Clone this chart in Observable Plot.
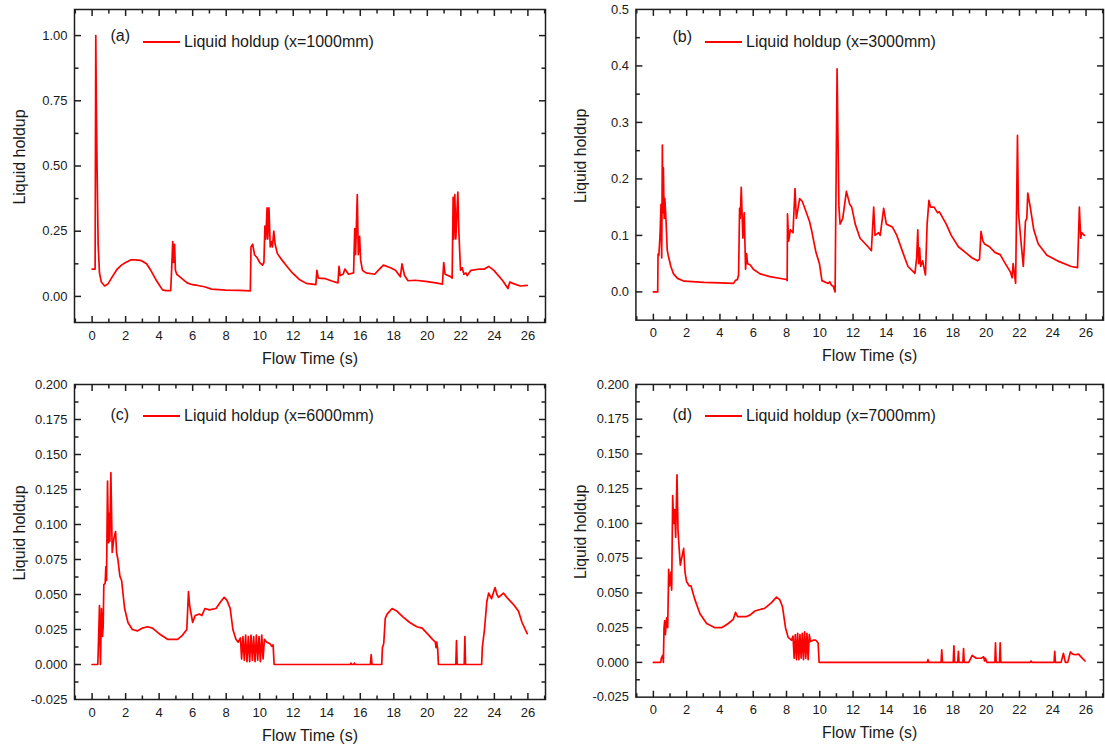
<!DOCTYPE html>
<html><head><meta charset="utf-8">
<script src="https://cdn.jsdelivr.net/npm/d3@7"></script>
<script src="https://cdn.jsdelivr.net/npm/@observablehq/plot@0.6"></script>
<style>
html,body{margin:0;padding:0;background:#fff;overflow:hidden;}
#fig{position:relative;width:1105px;height:749px;overflow:hidden;font-family:"Liberation Sans",Arial,sans-serif;color:#1a1a1a;background:#fff;}
.panel{position:absolute;}
.lg{position:absolute;font-size:16px;white-space:nowrap;line-height:16px;transform:translateY(-50%);}
.sw{position:absolute;height:0;border-top:2px solid #ff0000;transform:translateY(-1px);}
</style></head><body><div id="fig"></div>
<script>
// ---------- data ----------
const tags = ["(a)", "(b)", "(c)", "(d)"];
const captions = ["Liquid holdup (x=1000mm)", "Liquid holdup (x=3000mm)", "Liquid holdup (x=6000mm)", "Liquid holdup (x=7000mm)"];
const xTitle = "Flow Time (s)";
const yTitle = "Liquid holdup";

const xMajor = [0,2,4,6,8,10,12,14,16,18,20,22,24,26];
const xMinor = [-1,1,3,5,7,9,11,13,15,17,19,21,23,25,27];

const yMajorA = [0, 0.25, 0.5, 0.75, 1.0];
const yMinorA = [-0.125, 0.125, 0.375, 0.625, 0.875, 1.125];
const yMajorB = [0, 0.1, 0.2, 0.3, 0.4, 0.5];
const yMinorB = [-0.05, 0.05, 0.15, 0.25, 0.35, 0.45];
const yMajorC = [-0.025, 0, 0.025, 0.05, 0.075, 0.1, 0.125, 0.15, 0.175, 0.2];
const yMinorC = [-0.0125, 0.0125, 0.0375, 0.0625, 0.0875, 0.1125, 0.1375, 0.1625, 0.1875];

const timeA = [0,0.18,0.22,0.25,0.3,0.36,0.44,0.55,0.75,0.95,1.2,1.5,1.75,2.0,2.3,2.6,2.95,3.25,3.5,3.8,4.0,4.2,4.4,4.69,4.75,4.81,4.86,4.92,4.97,5.05,5.15,5.36,5.67,5.98,6.3,6.7,7.13,7.97,8.8,9.44,9.48,9.58,9.69,9.85,10.0,10.17,10.25,10.31,10.36,10.44,10.48,10.55,10.63,10.7,10.76,10.84,10.92,11.05,11.32,11.63,11.95,12.36,12.78,13.35,13.41,13.5,13.93,14.25,14.67,14.73,14.8,14.98,15.08,15.3,15.6,15.67,15.72,15.82,15.88,15.96,16.02,16.13,16.34,16.86,17.07,17.38,17.8,18.1,18.39,18.49,18.64,18.85,19.27,19.9,20.5,20.9,20.98,21.06,21.42,21.48,21.54,21.58,21.64,21.7,21.82,21.88,21.98,22.08,22.18,22.3,22.38,22.6,23.13,23.4,23.66,23.97,24.5,24.81,24.92,25.1,25.54,25.96];
const holdupA = [0.105,0.105,1.0,0.75,0.48,0.2,0.09,0.055,0.04,0.048,0.075,0.105,0.12,0.13,0.14,0.14,0.137,0.125,0.1,0.065,0.045,0.025,0.022,0.022,0.11,0.21,0.13,0.2,0.1,0.085,0.08,0.068,0.052,0.045,0.042,0.037,0.028,0.024,0.023,0.021,0.19,0.2,0.16,0.148,0.13,0.12,0.13,0.27,0.22,0.34,0.22,0.34,0.19,0.21,0.19,0.25,0.2,0.165,0.14,0.115,0.09,0.065,0.05,0.045,0.1,0.07,0.068,0.06,0.052,0.115,0.08,0.085,0.105,0.085,0.09,0.26,0.16,0.39,0.16,0.23,0.14,0.1,0.09,0.085,0.1,0.12,0.11,0.1,0.075,0.125,0.08,0.06,0.062,0.058,0.052,0.047,0.13,0.085,0.075,0.07,0.38,0.22,0.39,0.22,0.4,0.25,0.1,0.11,0.085,0.09,0.08,0.1,0.105,0.105,0.115,0.1,0.06,0.03,0.055,0.05,0.04,0.042];

const timeB = [0,0.26,0.28,0.33,0.4,0.46,0.5,0.54,0.57,0.6,0.65,0.69,0.77,0.83,0.89,1.05,1.21,1.45,1.85,3.04,4.03,4.82,4.92,5.05,5.12,5.18,5.22,5.28,5.38,5.46,5.54,5.6,5.66,5.81,6.01,6.41,7.0,8.0,8.04,8.06,8.13,8.23,8.39,8.51,8.59,8.79,8.95,9.1,9.38,9.5,9.77,9.98,10.13,10.5,10.6,10.7,10.81,10.92,11.04,11.08,11.15,11.22,11.38,11.6,11.8,11.92,12.13,12.42,12.9,13.1,13.24,13.32,13.53,13.63,13.84,14.0,14.36,14.63,14.99,15.3,15.72,15.82,15.89,15.94,16.0,16.06,16.18,16.35,16.45,16.56,16.66,16.87,17.08,17.18,17.6,17.9,18.33,18.75,19.16,19.48,19.6,19.69,19.8,19.9,20.2,20.52,20.84,21.15,21.46,21.56,21.62,21.77,21.88,21.94,22.09,22.23,22.36,22.44,22.5,22.65,22.86,23.13,23.65,24.28,25.11,25.49,25.6,25.68,25.74,25.9];
const holdupB = [0,0,0.067,0.065,0.1,0.155,0.06,0.26,0.14,0.22,0.13,0.165,0.12,0.075,0.065,0.045,0.032,0.024,0.019,0.017,0.016,0.015,0.02,0.022,0.03,0.148,0.13,0.185,0.095,0.14,0.04,0.068,0.05,0.048,0.04,0.032,0.027,0.022,0.02,0.138,0.09,0.11,0.105,0.183,0.13,0.165,0.16,0.148,0.125,0.11,0.07,0.05,0.02,0.015,0.018,0.012,0.01,0.0,0.395,0.3,0.15,0.12,0.13,0.178,0.155,0.15,0.12,0.095,0.08,0.073,0.15,0.1,0.105,0.1,0.148,0.12,0.115,0.1,0.07,0.045,0.033,0.06,0.11,0.05,0.078,0.045,0.055,0.03,0.12,0.162,0.15,0.15,0.14,0.142,0.12,0.1,0.08,0.07,0.06,0.055,0.058,0.107,0.09,0.085,0.08,0.07,0.066,0.05,0.035,0.025,0.05,0.015,0.277,0.14,0.09,0.045,0.125,0.13,0.175,0.15,0.11,0.085,0.065,0.055,0.045,0.043,0.15,0.095,0.105,0.1];

const timeC = [0,0.34,0.36,0.44,0.5,0.56,0.62,0.66,0.7,0.78,0.82,0.86,0.92,0.98,1.02,1.06,1.12,1.2,1.3,1.4,1.46,1.54,1.66,1.76,1.94,2.14,2.4,2.7,3.0,3.3,3.6,4.0,4.5,5.1,5.4,5.65,5.75,5.82,6.0,6.15,6.4,6.55,6.73,6.99,7.39,7.68,7.88,8.04,8.24,8.4,8.58,8.72,8.85,8.92,9.0,9.08,9.16,9.24,9.32,9.4,9.48,9.56,9.64,9.72,9.8,9.88,9.96,10.04,10.12,10.2,10.28,10.4,10.6,10.72,10.8,10.86,15.4,15.45,15.5,15.6,15.65,15.7,16.6,16.65,16.7,17.28,17.32,17.4,17.49,17.6,17.9,18.2,18.54,18.95,19.37,19.69,20.0,20.31,20.48,20.52,20.56,20.62,20.66,21.7,21.74,21.78,22.2,22.24,22.28,23.24,23.28,23.41,23.55,23.66,23.83,24.04,24.15,24.25,24.54,24.81,25.13,25.44,25.65,25.96];
const holdupC = [0,0,0.007,0.042,0.0,0.04,0.02,0.027,0.057,0.058,0.07,0.06,0.131,0.087,0.108,0.088,0.137,0.08,0.09,0.095,0.08,0.075,0.063,0.06,0.04,0.03,0.025,0.024,0.026,0.027,0.026,0.022,0.018,0.018,0.021,0.025,0.052,0.042,0.03,0.035,0.036,0.035,0.04,0.039,0.04,0.045,0.048,0.046,0.04,0.025,0.018,0.016,0.019,0.004,0.02,0.003,0.021,0.002,0.02,0.002,0.021,0.003,0.02,0.002,0.021,0.003,0.02,0.002,0.021,0.004,0.018,0.016,0.015,0.013,0.014,0.0,0,0.001,0,0,0.001,0,0,0.007,0,0,0.012,0.015,0.033,0.036,0.04,0.038,0.034,0.03,0.027,0.026,0.022,0.018,0.016,0.012,0.016,0.011,0.0,0,0.017,0,0,0.02,0,0,0.012,0.025,0.045,0.051,0.047,0.055,0.05,0.048,0.051,0.047,0.043,0.038,0.03,0.022];

const timeD = [0,0.44,0.48,0.56,0.6,0.64,0.68,0.72,0.8,0.86,0.92,0.98,1.06,1.1,1.16,1.22,1.28,1.34,1.42,1.48,1.56,1.62,1.7,1.82,1.9,2.0,2.16,2.26,2.5,2.8,3.2,3.7,4.1,4.5,4.8,4.94,5.06,5.6,5.8,6.1,6.7,7.1,7.4,7.6,7.76,7.94,8.1,8.3,8.39,8.46,8.53,8.6,8.67,8.74,8.81,8.88,8.95,9.02,9.09,9.16,9.23,9.3,9.37,9.44,9.6,9.76,9.9,9.96,16.45,16.5,16.55,17.29,17.33,17.37,18.02,18.06,18.1,18.29,18.33,18.37,18.6,18.64,18.68,18.95,19.16,19.4,19.7,19.85,19.9,19.95,20.05,20.52,20.56,20.6,20.8,20.84,20.88,22.65,22.7,22.75,24.08,24.12,24.16,24.5,24.64,24.76,24.9,25.06,25.2,25.35,25.55,25.7,25.94];
const holdupD = [0,0,0.003,0.005,0.0,0.025,0.03,0.02,0.032,0.025,0.067,0.055,0.065,0.052,0.12,0.1,0.11,0.09,0.135,0.095,0.08,0.07,0.075,0.082,0.065,0.058,0.055,0.055,0.045,0.035,0.028,0.025,0.025,0.028,0.031,0.036,0.033,0.033,0.034,0.037,0.039,0.043,0.047,0.045,0.04,0.025,0.018,0.016,0.019,0.003,0.02,0.002,0.021,0.002,0.02,0.003,0.021,0.002,0.022,0.003,0.021,0.002,0.02,0.015,0.016,0.016,0.014,0.0,0,0.002,0,0,0.009,0,0,0.012,0,0,0.008,0,0,0.01,0,0,0.005,0.003,0.003,0.004,0.001,0.003,0,0,0.014,0,0,0.014,0,0,0.001,0,0,0.008,0,0,0.0065,0,0,0.0075,0.006,0.0055,0.006,0.004,0.001];

// ---------- layout ----------
const xDomain = [-1.05, 27.05];
const panels = [
  {times: timeA, values: holdupA, yDomain: [-0.1, 1.1], yMajor: yMajorA, yMinor: yMinorA, digits: 2, left: 0,   top: 0,   width: 552, height: 374, mL: 74, mR: 7, mT: 9, mB: 52, tagDy: 27, lgDy: 32.5},
  {times: timeB, values: holdupB, yDomain: [-0.05, 0.5], yMajor: yMajorB, yMinor: yMinorB, digits: 1, left: 553, top: 0,   width: 556, height: 374, mL: 83, mR: 2, mT: 9, mB: 52, tagDy: 27.5, lgDy: 32.5},
  {times: timeC, values: holdupC, yDomain: [-0.025, 0.2], yMajor: yMajorC, yMinor: yMinorC, digits: 3, left: 0,   top: 375, width: 552, height: 374, mL: 74, mR: 7, mT: 9, mB: 50, tagDy: 31, lgDy: 31.5},
  {times: timeD, values: holdupD, yDomain: [-0.025, 0.2], yMajor: yMajorC, yMinor: yMinorC, digits: 3, left: 553, top: 375, width: 556, height: 374, mL: 83, mR: 2, mT: 9, mB: 50, tagDy: 31, lgDy: 31.5}
];

const fig = document.getElementById("fig");
const ink = "#1e1e1e";
const majorLen = 6.5, minorLen = 4;

panels.forEach((p, i) => {
  const rows = p.times.map((t, j) => ({t, v: p.values[j]}));
  const inRange = arr => arr.filter(v => v > p.yDomain[0] + 1e-9 && v < p.yDomain[1] - 1e-9);
  const xMinorIn = xMinor.filter(v => v > xDomain[0] && v < xDomain[1]);
  const pw = p.width - p.mL - p.mR;   // frame width in px
  const ph = p.height - p.mT - p.mB;  // frame height in px
  const [x0, x1] = xDomain, [y0, y1] = p.yDomain;
  const kx = (x1 - x0) / pw, ky = (y1 - y0) / ph;   // data units per pixel
  // inward tick segments on all four sides, built from the tick arrays
  const xSeg = (vals, len) => vals.flatMap(v => [
    {x: v, ya: y0, yb: y0 + len * ky},
    {x: v, ya: y1, yb: y1 - len * ky}
  ]);
  const ySeg = (vals, len) => vals.flatMap(v => [
    {y: v, xa: x0, xb: x0 + len * kx},
    {y: v, xa: x1, xb: x1 - len * kx}
  ]);
  const xt = [...xSeg(xMajor, majorLen), ...xSeg(xMinorIn, minorLen)];
  const yt = [...ySeg(inRange(p.yMajor), majorLen), ...ySeg(inRange(p.yMinor), minorLen)];
  const chart = Plot.plot({
    width: p.width, height: p.height,
    marginLeft: p.mL, marginRight: p.mR, marginTop: p.mT, marginBottom: p.mB,
    x: {domain: xDomain},
    y: {domain: p.yDomain},
    style: {fontFamily: "'Liberation Sans', Arial, sans-serif", fontSize: "13px", color: "#1a1a1a", background: "transparent", overflow: "visible"},
    marks: [
      Plot.axisX({anchor: "bottom", ticks: xMajor, tickSize: 0, tickPadding: 8, tickFormat: d => String(d), label: null, fontSize: 13}),
      Plot.axisY({anchor: "left", ticks: p.yMajor, tickSize: 0, tickPadding: 7, tickFormat: d => d.toFixed(p.digits), label: null, fontSize: 13}),
      Plot.frame({stroke: ink, strokeWidth: 1.5}),
      Plot.link(xt, {x1: "x", x2: "x", y1: "ya", y2: "yb", stroke: ink, strokeWidth: 1.5}),
      Plot.link(yt, {x1: "xa", x2: "xb", y1: "y", y2: "y", stroke: ink, strokeWidth: 1.5}),
      Plot.line(rows, {x: "t", y: "v", stroke: "#ff0000", strokeWidth: 1.7}),
      Plot.text([xTitle], {text: d => d, frameAnchor: "bottom", dy: 36, textAnchor: "middle", lineAnchor: "middle", fontSize: 16}),
      Plot.text([yTitle], {text: d => d, frameAnchor: "left", rotate: -90, dx: -55, dy: -9, textAnchor: "middle", lineAnchor: "middle", fontSize: 16})
    ]
  });
  const box = document.createElement("div");
  box.className = "panel";
  box.style.left = p.left + "px";
  box.style.top = p.top + "px";
  box.appendChild(chart);
  fig.appendChild(box);

  // legend (tag, swatch, caption) placed relative to the frame corner
  const fx = p.left + p.mL, fy = p.top + p.mT;
  const tag = document.createElement("div");
  tag.className = "lg"; tag.textContent = tags[i];
  tag.style.left = (fx + 36.5) + "px"; tag.style.top = (fy + p.tagDy) + "px";
  const sw = document.createElement("div");
  sw.className = "sw";
  sw.style.left = (fx + 69) + "px"; sw.style.top = (fy + p.lgDy) + "px"; sw.style.width = "36.5px";
  const cap = document.createElement("div");
  cap.className = "lg"; cap.textContent = captions[i];
  cap.style.left = (fx + 110) + "px"; cap.style.top = (fy + p.lgDy) + "px";
  fig.appendChild(tag); fig.appendChild(sw); fig.appendChild(cap);
});
</script></body></html>
